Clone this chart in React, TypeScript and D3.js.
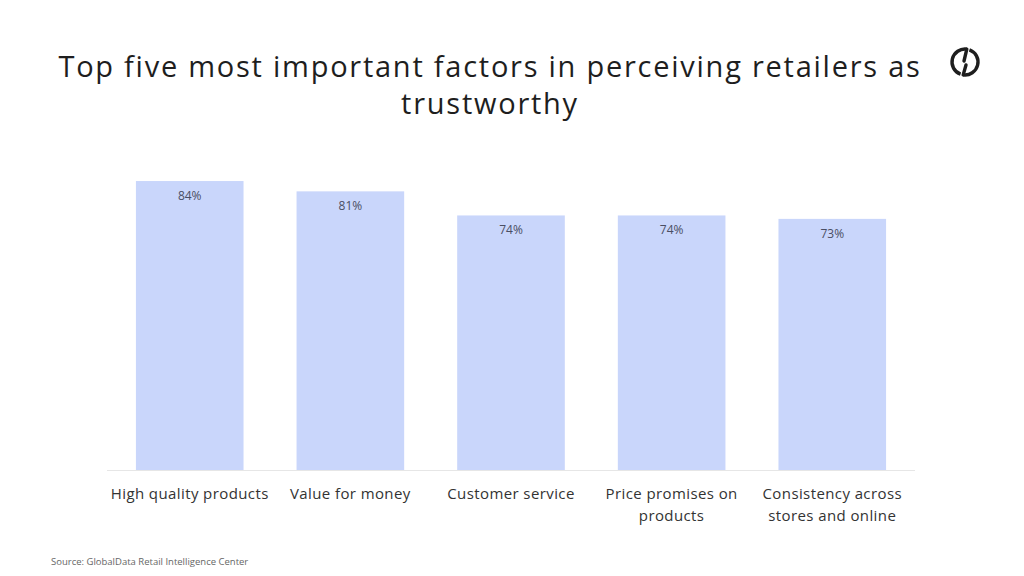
import React from 'react';
import * as d3 from 'd3';

const categories = [
  ['High quality products'],
  ['Value for money'],
  ['Customer service'],
  ['Price promises on', 'products'],
  ['Consistency across', 'stores and online'],
];
const values = [84, 81, 74, 74, 73];
const valueLabels = ['84%', '81%', '74%', '74%', '73%'];

const title = ['Top five most important factors in perceiving retailers as', 'trustworthy'];
const source = 'Source: GlobalData Retail Intelligence Center';

const W = 1024;
const H = 576;
const FONT = "'Open Sans', 'Noto Sans', sans-serif";

export default function App() {
  const x = d3
    .scaleBand<number>()
    .domain(d3.range(values.length))
    .range([107, 915])
    .paddingInner(0.33)
    .paddingOuter(0.18);
  const y = d3.scaleLinear().domain([0, 100]).range([470, 126]);

  // logo: broken ring with two inward strokes
  const ring = d3.arc().innerRadius(13).outerRadius(13);
  const deg = Math.PI / 180;
  const pt = (a: number, r: number) => [Math.sin(a * deg) * r, -Math.cos(a * deg) * r];
  const [tx, ty] = pt(8, 13);
  const [bx, by] = pt(188, 13);

  return (
    <svg
      width={W}
      height={H}
      style={{ position: 'absolute', left: 0, top: 0, background: '#fff' }}
      fontFamily={FONT}
    >
      <text textAnchor="middle" fill="#1e1e1e" fontSize={29} letterSpacing={1.75}>
        <tspan x={490} y={77}>{title[0]}</tspan>
        <tspan x={490} y={114}>{title[1]}</tspan>
      </text>

      <g transform="translate(965,62)" fill="none" stroke="#1e1e1e" strokeWidth={3.4} strokeLinecap="round">
        <path d={ring({ startAngle: 200 * deg, endAngle: 368 * deg } as any) as string} />
        <path d={ring({ startAngle: 20 * deg, endAngle: 188 * deg } as any) as string} />
        <line x1={tx} y1={ty} x2={-1} y2={-1} />
        <line x1={bx} y1={by} x2={1} y2={3} />
      </g>

      <line x1={107} x2={915} y1={y(0) + 0.5} y2={y(0) + 0.5} stroke="#e6e6e6" strokeWidth={1} />

      {values.map((v, i) => (
        <g key={i}>
          <rect x={x(i)} y={y(v)} width={x.bandwidth()} height={y(0) - y(v)} fill="#c9d6fb" />
          <text
            x={(x(i) as number) + x.bandwidth() / 2}
            y={y(v) + 19}
            textAnchor="middle"
            fontSize={12}
            fill="#4a4e63"
          >
            {valueLabels[i]}
          </text>
          <text textAnchor="middle" fontSize={15} letterSpacing={0.4} fill="#333">
            {categories[i].map((line, j) => (
              <tspan key={j} x={(x(i) as number) + x.bandwidth() / 2} y={499 + j * 22}>
                {line}
              </tspan>
            ))}
          </text>
        </g>
      ))}

      <text x={51} y={565} fontSize={9.5} fill="#666">{source}</text>
    </svg>
  );
}
